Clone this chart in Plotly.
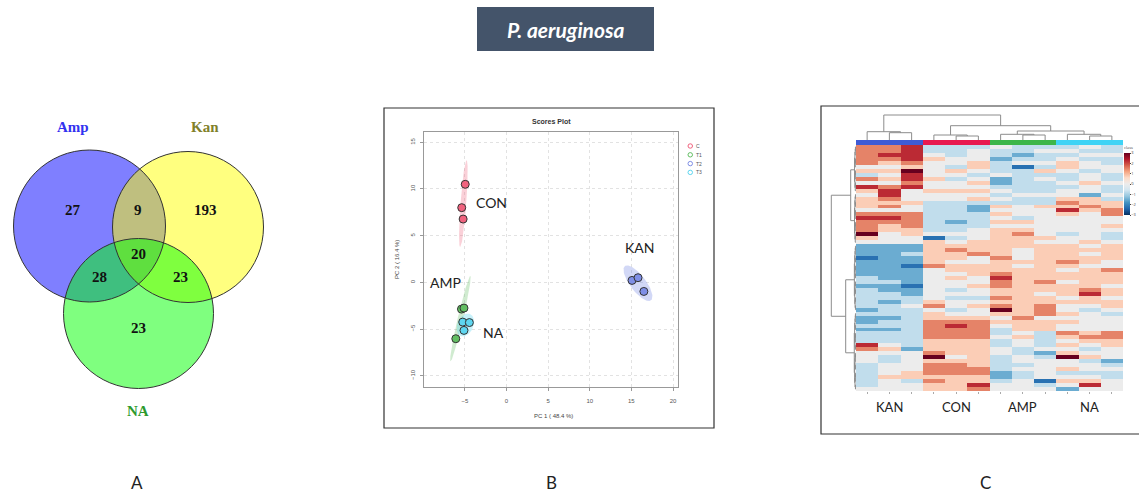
import numpy as np
import plotly.graph_objects as go

W, H = 1139, 492


def px(x):
    return x / W


def py(y):
    return 1 - y / H


# ======================= DATA =======================
# Panel A - Venn diagram
venn_sets = ["Amp", "Kan", "NA"]
venn_regions = ["Amp", "Amp&Kan", "Kan", "Amp&NA", "Amp&Kan&NA", "Kan&NA", "NA"]
venn_counts = [27, 9, 193, 28, 20, 23, 23]

# Panel B - PCA scores
pca_classes = ["C", "T1", "T2", "T3"]
pca_names = ["CON", "AMP", "KAN", "NA"]
pc1_C = [-4.95, -5.37, -5.20]
pc2_C = [10.50, 8.00, 6.78]
pc1_T1 = [-5.40, -5.10, -6.08]
pc2_T1 = [-2.86, -2.75, -6.03]
pc1_T2 = [15.08, 15.80, 16.50]
pc2_T2 = [0.21, 0.50, -0.97]
pc1_T3 = [-5.25, -4.45, -5.10]
pc2_T3 = [-4.25, -4.30, -5.14]
pc1_ticks = [-5, 0, 5, 10, 15, 20]
pc2_ticks = [-10, -5, 0, 5, 10, 15]
pc1_title = "PC 1 ( 48.4 %)"
pc2_title = "PC 2 ( 16.4 %)"

# Panel C - heatmap (levels 0..8 -> -3..3), columns KAN x3, CON x3, AMP x3, NA x3
heat_groups = ["KAN", "CON", "AMP", "NA"]
heat_level_values = [-3, -2.25, -1.5, -0.75, 0, 0.75, 1.5, 2.25, 3]
heat_rows = [
    "667333433343", "667334334433", "677434323344", "667544233433",
    "656445344543", "445435313544", "558454335434", "347443433343",
    "657534234343", "446445233454", "767444333343", "574555433443",
    "474444344424", "564445433553", "555333333655", "564332545565",
    "444332444756", "666333544546", "776333434444", "666323554444",
    "656333444445", "655334554444", "845444564343", "544134555443",
    "444545554454", "222555555545", "222565545555", "223556545545",
    "122554645555", "222544555654", "221655545544", "222455555456",
    "222445655555", "322454755555", "332444656455", "221445655554",
    "322434555565", "332444554575", "333433655454", "323544555555",
    "334645656445", "233434856434", "333544556543", "223555464444",
    "233666555544", "333676455444", "223666355444", "333666343656",
    "333666453566", "333555343455", "743555343545", "652555434434",
    "444655432544", "434845343854", "434555344432", "344665334443",
    "344666344544", "345666234333", "355555234443", "343655341554",
    "344557443474", "444556444244",
]
heat_cbar_ticks = [3, 2, 1, 0, -1, -2, -3]
# column dendrogram merges: (left id, right id, height)
col_merges = [
    (1, 2, 7.3), (0, 12, 8.3),
    (4, 5, 4.0), (3, 14, 5.0),
    (7, 8, 5.0), (6, 16, 5.7),
    (10, 11, 4.0), (9, 18, 5.7),
    (17, 19, 9.0), (15, 20, 14.3),
    (13, 21, 25.0),
]
# row dendrogram: leaf blocks and upper merge heights
row_blocks = [(0, 11), (12, 24), (25, 41), (42, 61)]
row_upper_heights = [5.3, 10.3, 24.7]

# ======================= STYLE =======================
FONT = "Lato"
fig = go.Figure()
shapes = []
annotations = []


def note(x, y, text, size, color, family=FONT, xanchor="center", **kw):
    annotations.append(dict(xref="paper", yref="paper", x=px(x), y=py(y), text=text, showarrow=False,
                            xanchor=xanchor, yanchor="middle", borderpad=0,
                            font=dict(family=family, size=size, color=color), **kw))


# ---------- Panel A: Venn ----------
venn_geom = [(89.5, 226, 76), (188, 227, 75.5), (138.5, 313.5, 75)]
venn_fill = ["rgba(0,0,255,0.5)", "rgba(255,255,0,0.5)", "rgba(0,255,0,0.5)"]
venn_label_pos = [(73, 127), (205, 127), (138, 411)]
venn_label_col = ["#3232F0", "#80802A", "#2E9A2E"]
venn_count_pos = [(73, 210), (138, 210), (205, 210), (99, 277), (138, 254), (180, 277), (138, 328)]

for (cx, cy, r), fc in zip(venn_geom, venn_fill):
    shapes.append(dict(type="circle", xref="x", yref="y", x0=cx - r, x1=cx + r, y0=cy - r, y1=cy + r,
                       fillcolor=fc, line=dict(width=0)))
for (cx, cy, r) in venn_geom:
    shapes.append(dict(type="circle", xref="x", yref="y", x0=cx - r, x1=cx + r, y0=cy - r, y1=cy + r,
                       fillcolor="rgba(0,0,0,0)", line=dict(color="#333333", width=1)))
for name, (lx, ly), c in zip(venn_sets, venn_label_pos, venn_label_col):
    annotations.append(dict(xref="x", yref="y", x=lx, y=ly, text=f"<b>{name}</b>", showarrow=False,
                            xanchor="center", yanchor="middle",
                            font=dict(family="Liberation Serif", size=15, color=c)))
for cnt, (lx, ly) in zip(venn_counts, venn_count_pos):
    annotations.append(dict(xref="x", yref="y", x=lx, y=ly, text=f"<b>{cnt}</b>", showarrow=False,
                            xanchor="center", yanchor="middle",
                            font=dict(family="Liberation Serif", size=15, color="#111111")))
fig.add_trace(go.Scatter(x=[None], y=[None], xaxis="x", yaxis="y", showlegend=False, hoverinfo="skip"))

# ---------- Panel B: PCA ----------
pca_sets = [(pc1_C, pc2_C), (pc1_T1, pc2_T1), (pc1_T2, pc2_T2), (pc1_T3, pc2_T3)]
pt_colors = ["#F0627E", "#62BE62", "#7F8FE6", "#5ED6F0"]
el_colors = ["rgba(240,98,126,0.30)", "rgba(98,190,98,0.30)", "rgba(127,143,230,0.35)", "rgba(94,214,240,0.35)"]


def ellipse(xs, ys, k=2.4477, n=120):
    xs, ys = np.asarray(xs), np.asarray(ys)
    m = np.array([xs.mean(), ys.mean()])
    cov = np.cov(xs, ys)
    vals, vecs = np.linalg.eigh(cov)
    t = np.linspace(0, 2 * np.pi, n)
    circ = np.vstack([np.cos(t), np.sin(t)])
    pts = vecs @ np.diag(np.sqrt(np.maximum(vals, 0))) @ circ * k
    return m[0] + pts[0], m[1] + pts[1]


for (xs, ys), ec in zip(pca_sets, el_colors):
    ex, ey = ellipse(xs, ys)
    fig.add_trace(go.Scatter(x=ex, y=ey, xaxis="x2", yaxis="y2", mode="lines", fill="toself",
                             fillcolor=ec, line=dict(width=0), showlegend=False, hoverinfo="skip"))
for (xs, ys), pc, cl in zip(pca_sets, pt_colors, pca_classes):
    fig.add_trace(go.Scatter(x=xs, y=ys, xaxis="x2", yaxis="y2", mode="markers", name=cl,
                             marker=dict(size=8, color=pc, line=dict(color="#333333", width=1)),
                             showlegend=False))

name_pos = [(-1.8, 8.5), (-7.3, 0.0), (16.0, 3.7), (-1.6, -5.4)]
for nm, (tx, ty) in zip(pca_names, name_pos):
    annotations.append(dict(xref="x2", yref="y2", x=tx, y=ty, text=nm, showarrow=False,
                            xanchor="center", yanchor="middle",
                            font=dict(family=FONT, size=14, color="#222222")))
note(551, 122, "<b>Scores Plot</b>", 7, "#333333", family="Liberation Sans")
note(553, 416, pc1_title, 6, "#444444", family="Liberation Sans")
note(397, 260, pc2_title, 6, "#444444", family="Liberation Sans", textangle=-90)
# legend
for i, (cl, pc) in enumerate(zip(pca_classes, pt_colors)):
    ly = 146 + i * 8.8
    shapes.append(dict(type="circle", xref="paper", yref="paper", x0=px(688), x1=px(692.5),
                       y0=py(ly + 2.2), y1=py(ly - 2.2), line=dict(color=pc, width=1)))
    note(695, ly, cl, 5, "#555555", family="Liberation Sans", xanchor="left")

# frame B
shapes.append(dict(type="rect", xref="paper", yref="paper", x0=px(384), x1=px(714), y0=py(428), y1=py(108),
                   line=dict(color="#333333", width=1.2), fillcolor="rgba(0,0,0,0)"))

# ---------- Panel C: heatmap ----------
z = np.array([[heat_level_values[int(ch)] for ch in row] for row in heat_rows])
nrow, ncol = z.shape
rdbu = [[0.0, "#053061"], [0.1, "#2166ac"], [0.2, "#4393c3"], [0.3, "#92c5de"], [0.4, "#d1e5f0"],
        [0.5, "#ececec"], [0.6, "#fddbc7"], [0.7, "#f4a582"], [0.8, "#d6604d"], [0.9, "#b2182b"],
        [1.0, "#67001f"]]
fig.add_trace(go.Heatmap(z=z, x=list(range(ncol)), y=list(range(nrow)), xaxis="x3", yaxis="y3",
                         colorscale=rdbu, zmin=-3, zmax=3, hoverinfo="skip",
                         colorbar=dict(x=px(1124), xanchor="left", y=py(143), yanchor="top",
                                       len=72 / H, lenmode="fraction", thickness=6, outlinewidth=0,
                                       tickvals=heat_cbar_ticks, ticks="outside", ticklen=1,
                                       xpad=0, ypad=0,
                                       tickfont=dict(size=4, color="#444"),
                                       title=dict(text="class", font=dict(size=4, color="#444"), side="top"))))

# group color bar
grp_colors = ["#3F5BD5", "#E8194F", "#3DB649", "#3FD3F5"]
grp_scale = []
for i, c in enumerate(grp_colors):
    grp_scale += [[i / 4, c], [(i + 1) / 4, c]]
fig.add_trace(go.Heatmap(z=[[0, 1, 2, 3]], x=[1, 4, 7, 10], y=[0], xaxis="x5", yaxis="y5",
                         colorscale=grp_scale, zmin=0, zmax=3, showscale=False, hoverinfo="skip"))


def dendro(merges, n, leaf_pos):
    pos = {i: leaf_pos[i] for i in range(n)}
    ht = {i: 0.0 for i in range(n)}
    a_s, h_s = [], []
    for k, (a, b, h) in enumerate(merges):
        pa, pb = pos[a], pos[b]
        a_s += [pa, pa, pb, pb, None]
        h_s += [ht[a], h, h, ht[b], None]
        pos[n + k] = (pa + pb) / 2
        ht[n + k] = h
    return a_s, h_s


cx_, ch_ = dendro(col_merges, ncol, list(range(ncol)))
fig.add_trace(go.Scatter(x=cx_, y=ch_, xaxis="x4", yaxis="y4", mode="lines",
                         line=dict(color="#8C8C8C", width=1), showlegend=False, hoverinfo="skip"))

row_merges = []


def block(lo, hi):
    if lo == hi:
        return lo
    mid = (lo + hi) // 2
    left = block(lo, mid)
    right = block(mid + 1, hi)
    row_merges.append((left, right, 0.35 * np.log2(hi - lo + 1) + 0.2))
    return nrow + len(row_merges) - 1


bid = [block(lo, hi) for lo, hi in row_blocks]
row_merges.append((bid[0], bid[1], row_upper_heights[0]))
ab = nrow + len(row_merges) - 1
row_merges.append((bid[2], bid[3], row_upper_heights[1]))
cd = nrow + len(row_merges) - 1
row_merges.append((ab, cd, row_upper_heights[2]))
ry_, rh_ = dendro(row_merges, nrow, list(range(nrow)))
fig.add_trace(go.Scatter(x=rh_, y=ry_, xaxis="x6", yaxis="y6", mode="lines",
                         line=dict(color="#8C8C8C", width=1), showlegend=False, hoverinfo="skip"))

for i, g in enumerate(heat_groups):
    annotations.append(dict(xref="x3", yref="paper", x=3 * i + 1, y=py(407), text=g, showarrow=False,
                            xanchor="center", yanchor="middle",
                            font=dict(family=FONT, size=13, color="#222222")))

shapes.append(dict(type="rect", xref="paper", yref="paper", x0=px(821), x1=px(1142), y0=py(434), y1=py(106),
                   line=dict(color="#333333", width=1.2), fillcolor="rgba(0,0,0,0)"))

# ---------- Title and panel letters ----------
shapes.append(dict(type="rect", xref="paper", yref="paper", x0=px(477), x1=px(654), y0=py(51), y1=py(7),
                   fillcolor="#44546A", line=dict(width=0), layer="below"))
note(565, 29, "<b><i>P. aeruginosa</i></b>", 21, "white")
for lt, lx in zip(["A", "B", "C"], [137, 551, 985]):
    note(lx, 482, lt, 17, "#222222")

hidden = dict(visible=False, fixedrange=True)
fig.update_layout(
    width=W, height=H, margin=dict(l=0, r=0, t=0, b=0, pad=0, autoexpand=False),
    paper_bgcolor="white", plot_bgcolor="rgba(0,0,0,0)", showlegend=False,
    shapes=shapes, annotations=annotations,
    xaxis=dict(domain=[0, px(280)], range=[0, 280], **hidden),
    yaxis=dict(domain=[0, 1], range=[H, 0], **hidden),
    xaxis2=dict(domain=[px(424), px(678)], range=[-9.9, 20.6], tickvals=pc1_ticks, anchor="y2",
                showgrid=True, gridcolor="#E2E2E2", griddash="dot", zeroline=False,
                showline=True, mirror=True, linecolor="#999999", linewidth=1, automargin=False,
                ticks="outside", ticklen=3, tickcolor="#999999", ticklabelstandoff=5,
                tickfont=dict(family="Liberation Sans", size=6, color="#555555"), fixedrange=True),
    yaxis2=dict(domain=[py(387), py(132)], range=[-11.2, 16.1], tickvals=pc2_ticks, anchor="x2",
                showgrid=True, gridcolor="#E2E2E2", griddash="dot", zeroline=False,
                showline=True, mirror=True, linecolor="#999999", linewidth=1, automargin=False,
                ticks="outside", ticklen=3, tickcolor="#999999", tickangle=-90, ticklabelstandoff=3,
                tickfont=dict(family="Liberation Sans", size=6, color="#555555"), fixedrange=True),
    xaxis3=dict(domain=[px(856), px(1123)], range=[-0.5, ncol - 0.5], anchor="y3", showgrid=False,
                zeroline=False, tickvals=list(range(ncol)), ticks="outside", ticklen=2, tickcolor="#AAAAAA",
                showticklabels=False, fixedrange=True, automargin=False),
    yaxis3=dict(domain=[py(391), py(145)], range=[nrow - 0.5, -0.5], anchor="x3", visible=False,
                fixedrange=True),
    xaxis4=dict(domain=[px(856), px(1123)], range=[-0.5, ncol - 0.5], anchor="y4", **hidden),
    yaxis4=dict(domain=[py(140), py(113)], range=[0, 27], anchor="x4", **hidden),
    xaxis5=dict(domain=[px(856), px(1123)], range=[-0.5, ncol - 0.5], anchor="y5", **hidden),
    yaxis5=dict(domain=[py(145), py(140)], range=[-0.5, 0.5], anchor="x5", **hidden),
    xaxis6=dict(domain=[px(826), px(856)], range=[30, 0], anchor="y6", **hidden),
    yaxis6=dict(domain=[py(391), py(145)], range=[nrow - 0.5, -0.5], anchor="x6", **hidden),
)

fig.write_html("out.html", config={"displayModeBar": False},
               post_script="document.body.style.margin='0px';")
